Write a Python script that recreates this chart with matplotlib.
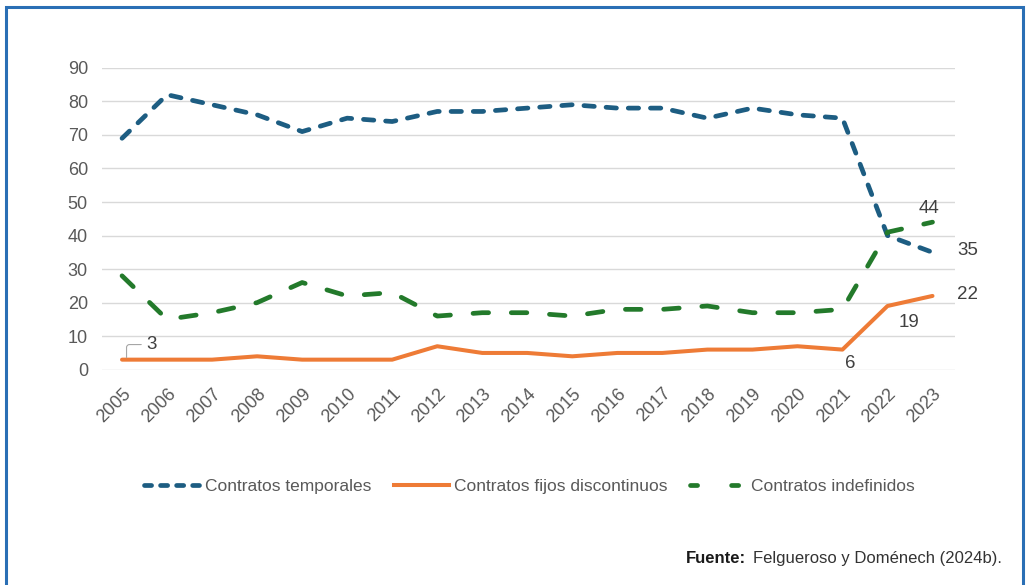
import matplotlib.pyplot as plt
from matplotlib.lines import Line2D
from matplotlib.patches import Rectangle

plt.rcParams['font.family'] = ['Liberation Sans', 'DejaVu Sans']

years = [str(y) for y in range(2005, 2024)]
temporales = [69, 82, 79, 76, 71, 75, 74, 77, 77, 78, 79, 78, 78, 75, 78, 76, 75, 40, 35]
fijos = [3, 3, 3, 4, 3, 3, 3, 7, 5, 5, 4, 5, 5, 6, 6, 7, 6, 19, 22]
indefinidos = [28, 15, 17, 20, 26, 22, 23, 16, 17, 17, 16, 18, 18, 19, 17, 17, 18, 41, 44]

c_temp = '#1d5d82'
c_fijo = '#ee7b36'
c_indef = '#237a2b'
c_text = '#595959'

fig = plt.figure(figsize=(10.28, 5.85), dpi=100)
ax = fig.add_axes([0.099, 0.368, 0.830, 0.516])

x = list(range(len(years)))
ax.plot(x, temporales, color=c_temp, lw=3.4, dashes=(2.2, 2.5), dash_capstyle='round')
ax.plot(x, fijos, color=c_fijo, lw=2.9, solid_capstyle='round', solid_joinstyle='round')
ax.plot(x, indefinidos, color=c_indef, lw=3.4, dashes=(3.3, 4.8), dash_capstyle='round')

ax.set_xlim(-0.45, 18.5)
ax.set_ylim(0, 90)
ax.set_yticks(range(0, 91, 10))
ax.set_xticks(x)
ax.set_xticklabels(years, rotation=45, ha='right', rotation_mode='anchor')
ax.tick_params(axis='both', length=0, labelsize=13, colors=c_text)
ax.tick_params(axis='y', pad=10)
ax.tick_params(axis='x', pad=11)
ax.grid(axis='y', color='#d9d9d9', lw=1)
ax.set_axisbelow(True)
for s in ax.spines.values():
    s.set_visible(False)

# data labels
fs = 13.5
lc = '#404040'
ax.annotate(str(fijos[0]), xy=(x[0] + 0.1, fijos[0] + 0.6), xytext=(x[0] + 0.55, fijos[0] + 4.5),
            fontsize=fs, color=lc, va='center',
            arrowprops=dict(arrowstyle='-', color='#a6a6a6', lw=0.8,
                            connectionstyle='angle,angleA=0,angleB=90,rad=3',
                            shrinkA=2, shrinkB=0))
ax.text(x[16] + 0.05, fijos[16] - 4, str(fijos[16]), fontsize=fs, color=lc, ha='left', va='center')
ax.text(x[17] + 0.25, fijos[17] - 5, str(fijos[17]), fontsize=fs, color=lc, ha='left', va='center')
ax.text(x[18] + 0.55, fijos[18] + 0.5, str(fijos[18]), fontsize=fs, color=lc, ha='left', va='center')
ax.text(x[18] + 0.55, temporales[18] + 0.5, str(temporales[18]), fontsize=fs, color=lc, ha='left', va='center')
ax.text(x[18] - 0.3, indefinidos[18] + 4, str(indefinidos[18]), fontsize=fs, color=lc, ha='left', va='center')

handles = [
    Line2D([], [], color=c_temp, lw=3.4, dashes=(1.5, 1.9), dash_capstyle='round'),
    Line2D([], [], color=c_fijo, lw=2.9),
    Line2D([], [], color=c_indef, lw=3.4, dashes=(1.5, 7.2), dash_capstyle='round'),
]
fig.legend(handles, ['Contratos temporales', 'Contratos fijos discontinuos', 'Contratos indefinidos'],
           loc='center', bbox_to_anchor=(0.515, 0.168), ncol=3, frameon=False,
           fontsize=12.5, handlelength=3.2, columnspacing=1.3, handletextpad=0.3,
           labelcolor=c_text)

fig.text(0.726, 0.046, 'Fuente:', fontsize=12, color='#1a1a1a', ha='right', va='center',
         fontweight='bold')
fig.text(0.975, 0.046, 'Felgueroso y Doménech (2024b).', fontsize=12, color='#333333',
         ha='right', va='center')

# blue frame
fig.patches.append(Rectangle((6 / 1028, -0.05), (1023 - 6) / 1028, 1 - 7 / 585 + 0.05,
                             transform=fig.transFigure, fill=False, edgecolor='#2a6fb5', lw=2.2))

fig.savefig('out.png', dpi=100, facecolor='white')
